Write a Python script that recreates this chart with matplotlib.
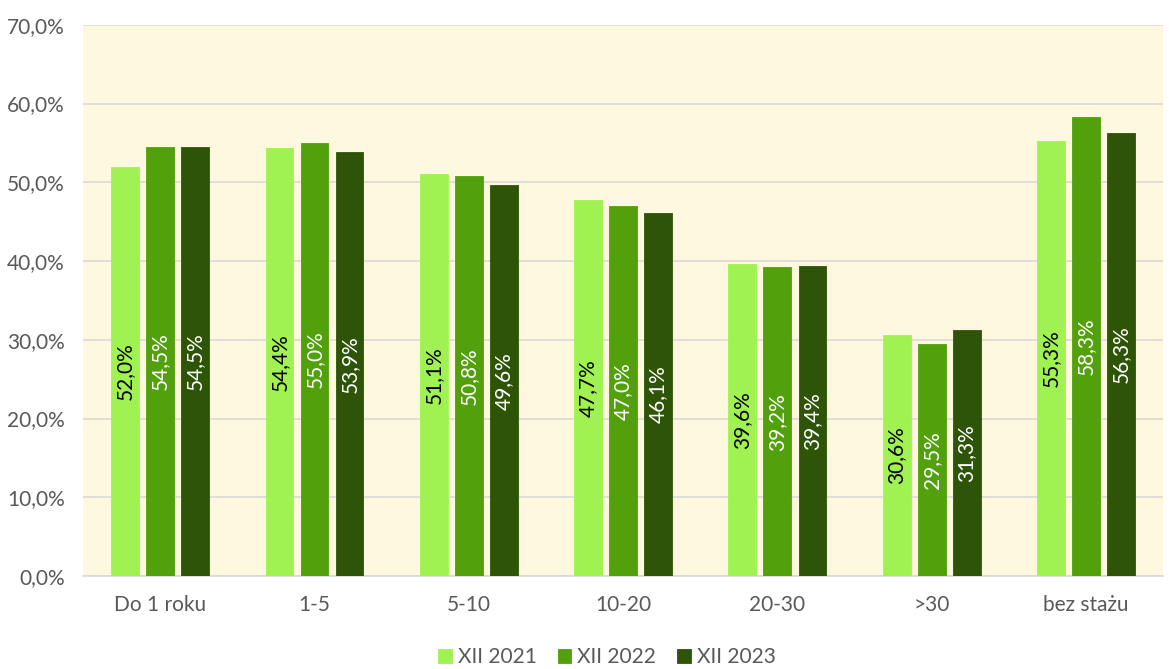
import matplotlib
matplotlib.use("Agg")
import matplotlib.pyplot as plt
import numpy as np

categories = ["Do 1 roku", "1-5", "5-10", "10-20", "20-30", ">30", "bez stażu"]
series = ["XII 2021", "XII 2022", "XII 2023"]
v2021 = [52.0, 54.4, 51.1, 47.7, 39.6, 30.6, 55.3]
v2022 = [54.5, 55.0, 50.8, 47.0, 39.2, 29.5, 58.3]
v2023 = [54.5, 53.9, 49.6, 46.1, 39.4, 31.3, 56.3]

colors = ["#A0F252", "#52A00B", "#2E5507"]
label_colors = ["black", "white", "white"]

plt.rcParams["font.family"] = ["Lato", "DejaVu Sans"]

fig = plt.figure(figsize=(11.69, 6.69), dpi=100)
ax = fig.add_axes([0.071, 0.139, 0.924, 0.824])
ax.set_facecolor("#FEF8DE")

x = np.arange(len(categories))
w = 0.18
step = 0.227
for i, (vals, c, lc) in enumerate(zip([v2021, v2022, v2023], colors, label_colors)):
    pos = x + (i - 1) * step
    bars = ax.bar(pos, vals, width=w, color=c, edgecolor=c, linewidth=0.6,
                  label=series[i], zorder=3)
    for b, v in zip(bars, vals):
        ax.text(b.get_x() + b.get_width() / 2, v / 2,
                f"{v:.1f}%".replace(".", ","), rotation=90,
                ha="center", va="center", color=lc, fontsize=15, zorder=4)

ax.set_ylim(0, 70)
ax.set_xlim(-0.5, len(categories) - 0.5)
ax.set_yticks(np.arange(0, 71, 10))
ax.set_yticklabels([f"{t:.1f}%".replace(".", ",") for t in np.arange(0, 71, 10)])
ax.set_xticks(x)
ax.set_xticklabels(categories)
ax.tick_params(axis="both", length=0, colors="#595959", labelsize=15)
ax.tick_params(axis="x", pad=14)
ax.tick_params(axis="y", pad=13)
ax.grid(axis="y", color="#D9D9D9", linewidth=1.2, zorder=0)
for s in ["top", "right", "left"]:
    ax.spines[s].set_visible(False)
ax.spines["bottom"].set_color("#D9D9D9")
ax.spines["bottom"].set_linewidth(1.2)

ax.legend(loc="center", bbox_to_anchor=(0.485, -0.147), ncol=3, frameon=False,
          fontsize=15, handlelength=0.65, handleheight=0.65, handletextpad=0.3,
          columnspacing=1.0, labelcolor="#595959", borderpad=0)

fig.savefig("out.png", dpi=100, facecolor="white")
